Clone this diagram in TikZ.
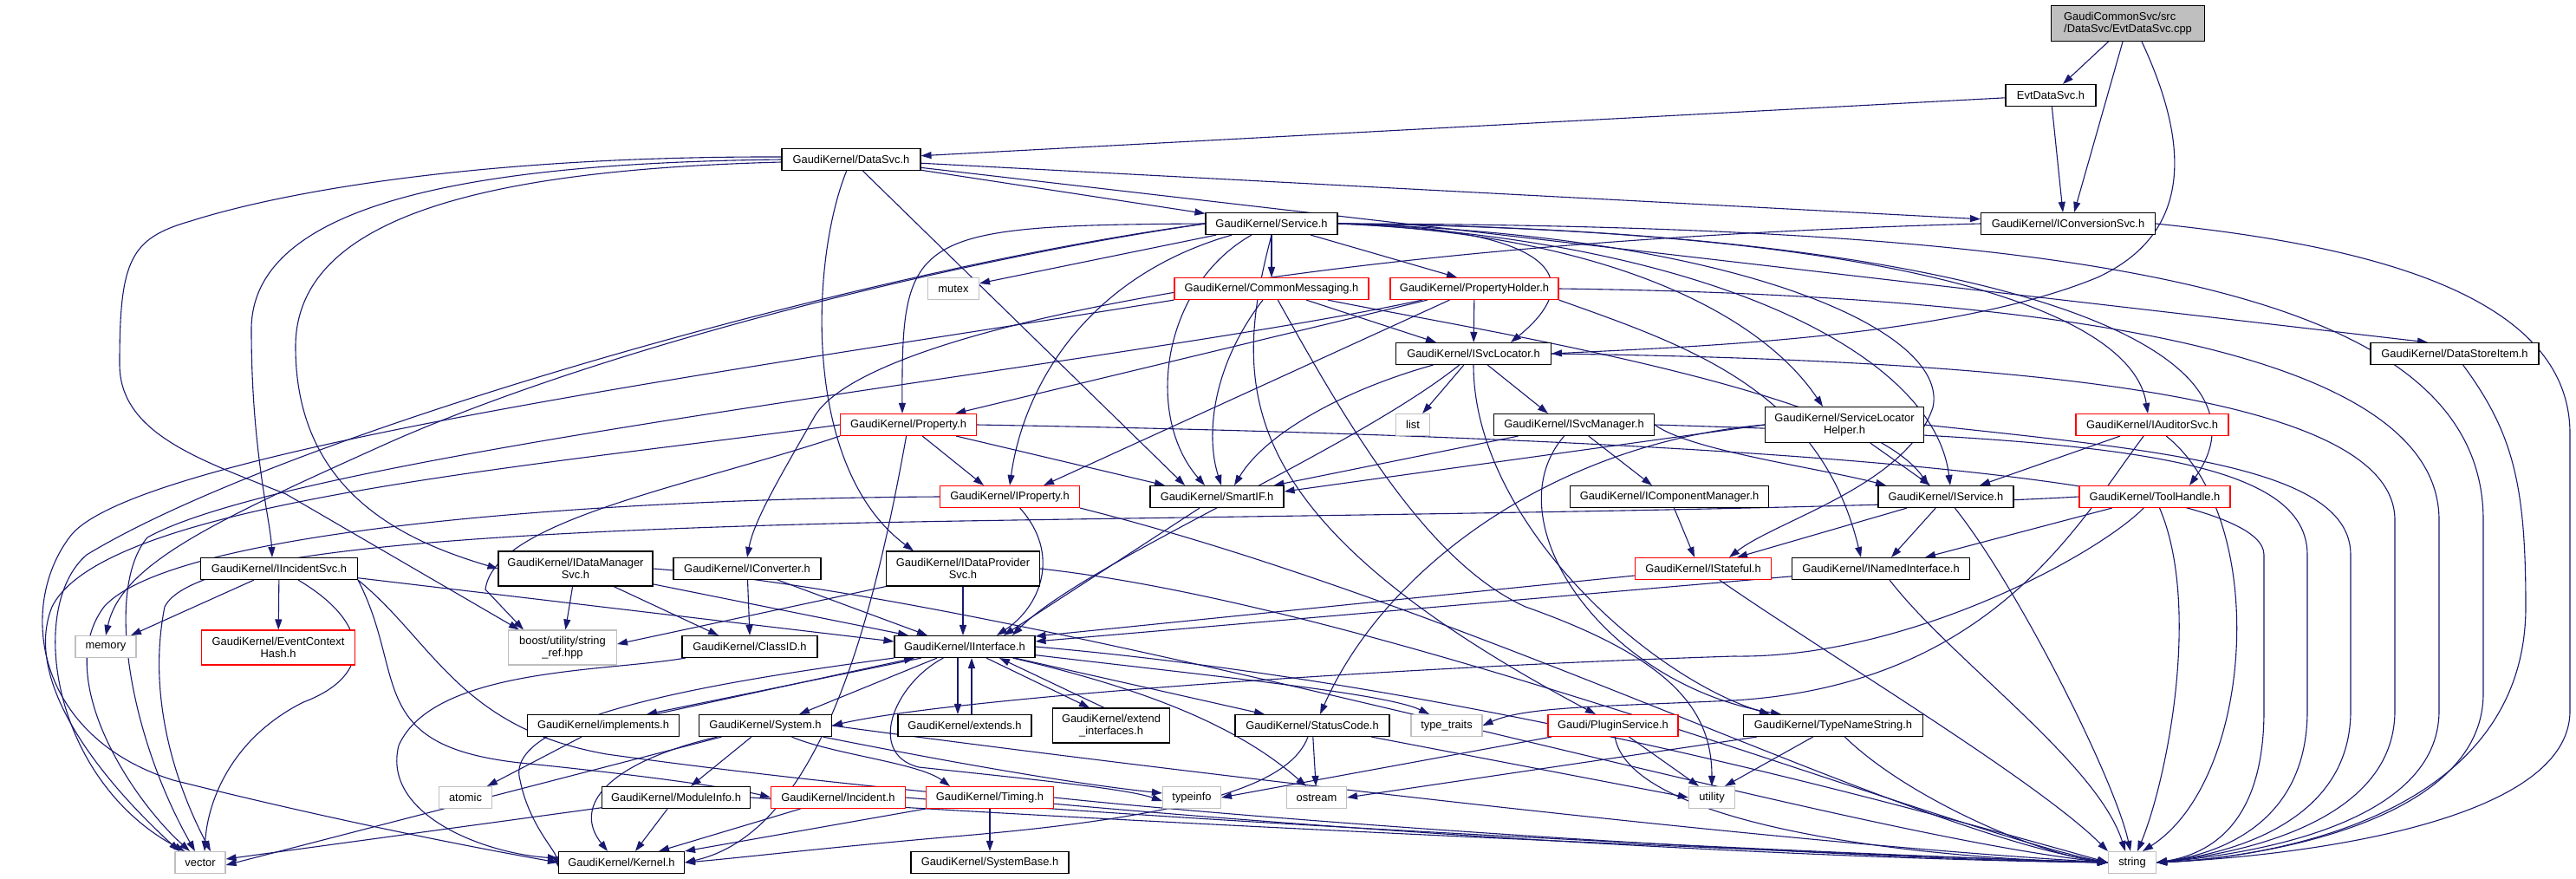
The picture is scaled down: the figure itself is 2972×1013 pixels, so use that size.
\documentclass[tikz,border=0pt]{standalone}
\usepackage{fontspec}
\setmainfont{Liberation Sans}
\usetikzlibrary{arrows.meta}
\definecolor{edgeblue}{HTML}{191970}
\definecolor{nodegrey}{HTML}{BFBFBF}
\pgfdeclarelayer{bg}
\pgfsetlayers{bg,main}
\tikzset{
  nd/.style={draw=black, line width=1.1pt, fill=white, rectangle, inner sep=0pt,
    minimum height=25pt, font=\fontsize{12.9}{14.5}\selectfont, align=center},
  rednd/.style={nd, draw=red},
  greynd/.style={nd, draw=nodegrey},
  e/.style={draw=edgeblue, line width=1.1pt, -{Triangle[length=12pt,width=8pt]}},
}
\begin{document}
\begin{tikzpicture}[x=1pt,y=-1pt]
\useasboundingbox (0,0) rectangle (2972,1013);
% nodes
\node[nd, minimum width=177pt, minimum height=41pt, fill=nodegrey, align=left] (root) at (2455,27) {GaudiCommonSvc/src\\/DataSvc/EvtDataSvc.cpp};
\node[nd, minimum width=104pt] (evt) at (2366,110) {EvtDataSvc.h};
\node[nd, minimum width=201pt] (conv) at (2386,258) {GaudiKernel/IConversionSvc.h};
\node[nd, minimum width=160pt] (datasvc) at (982,184) {GaudiKernel/DataSvc.h};
\node[nd, minimum width=152pt] (service) at (1467,258) {GaudiKernel/Service.h};
\node[greynd, minimum width=59pt] (mutex) at (1100,333) {mutex};
\node[rednd, minimum width=224pt] (commsg) at (1467,333) {GaudiKernel/CommonMessaging.h};
\node[rednd, minimum width=194pt] (propholder) at (1701,333) {GaudiKernel/PropertyHolder.h};
\node[nd, minimum width=179pt] (svcloc) at (1700,408) {GaudiKernel/ISvcLocator.h};
\node[nd, minimum width=194pt] (dsitem) at (2832,408) {GaudiKernel/DataStoreItem.h};
\node[greynd, minimum width=39pt] (list) at (1630,490) {list};
\node[nd, minimum width=185pt] (svcmgr) at (1816,490) {GaudiKernel/ISvcManager.h};
\node[nd, minimum width=183pt, minimum height=41pt] (slh) at (2128,490) {GaudiKernel/ServiceLocator\\Helper.h};
\node[rednd, minimum width=176pt] (audsvc) at (2483,490) {GaudiKernel/IAuditorSvc.h};
\node[rednd, minimum width=157pt] (property) at (1048,490) {GaudiKernel/Property.h};
\node[rednd, minimum width=161pt] (iprop) at (1165,573) {GaudiKernel/IProperty.h};
\node[nd, minimum width=154pt] (smartif) at (1404,573) {GaudiKernel/SmartIF.h};
\node[nd, minimum width=229pt] (compmgr) at (1926,573) {GaudiKernel/IComponentManager.h};
\node[nd, minimum width=156pt] (iservice) at (2245,573) {GaudiKernel/IService.h};
\node[rednd, minimum width=174pt] (toolh) at (2486,573) {GaudiKernel/ToolHandle.h};
\node[nd, minimum width=181pt] (incsvc) at (322,656) {GaudiKernel/IIncidentSvc.h};
\node[nd, minimum width=178pt, minimum height=40pt] (dmsvc) at (664,656) {GaudiKernel/IDataManager\\Svc.h};
\node[nd, minimum width=170pt] (iconv) at (862,656) {GaudiKernel/IConverter.h};
\node[nd, minimum width=177pt, minimum height=40pt] (dpsvc) at (1111,656) {GaudiKernel/IDataProvider\\Svc.h};
\node[rednd, minimum width=157pt] (stateful) at (1965,656) {GaudiKernel/IStateful.h};
\node[nd, minimum width=205pt] (named) at (2170,656) {GaudiKernel/INamedInterface.h};
\node[greynd, minimum width=70pt] (memory) at (122,746) {memory};
\node[rednd, minimum width=177pt, minimum height=40pt] (ech) at (321,747) {GaudiKernel/EventContext\\Hash.h};
\node[greynd, minimum width=125pt, minimum height=40pt] (boost) at (649,747) {boost/utility/string\\\_ref.hpp};
\node[nd, minimum width=156pt] (classid) at (865,746) {GaudiKernel/ClassID.h};
\node[nd, minimum width=162pt] (iinterface) at (1113,746) {GaudiKernel/IInterface.h};
\node[nd, minimum width=175pt] (impl) at (696,837) {GaudiKernel/implements.h};
\node[nd, minimum width=153pt] (system) at (883,837) {GaudiKernel/System.h};
\node[nd, minimum width=154pt] (extends) at (1113,837) {GaudiKernel/extends.h};
\node[nd, minimum width=135pt, minimum height=40pt] (extif) at (1282,837) {GaudiKernel/extend\\\_interfaces.h};
\node[nd, minimum width=178pt] (status) at (1514,837) {GaudiKernel/StatusCode.h};
\node[greynd, minimum width=82pt] (ttraits) at (1669,837) {type\_traits};
\node[rednd, minimum width=150pt] (plugin) at (1861,837) {Gaudi/PluginService.h};
\node[nd, minimum width=207pt] (typename) at (2115,837) {GaudiKernel/TypeNameString.h};
\node[greynd, minimum width=61pt] (atomic) at (537,920) {atomic};
\node[nd, minimum width=171pt] (modinfo) at (780,920) {GaudiKernel/ModuleInfo.h};
\node[rednd, minimum width=155pt] (incident) at (967,920) {GaudiKernel/Incident.h};
\node[rednd, minimum width=147pt] (timing) at (1142,920) {GaudiKernel/Timing.h};
\node[greynd, minimum width=67pt] (typeinfo) at (1375,920) {typeinfo};
\node[greynd, minimum width=69pt] (ostream) at (1519,920) {ostream};
\node[greynd, minimum width=53pt] (utility) at (1975,920) {utility};
\node[greynd, minimum width=58pt] (vector) at (231,995) {vector};
\node[nd, minimum width=145pt] (kernel) at (717,995) {GaudiKernel/Kernel.h};
\node[nd, minimum width=182pt] (sysbase) at (1142,995) {GaudiKernel/SystemBase.h};
\node[greynd, minimum width=55pt] (string) at (2460,995) {string};
\begin{pgfonlayer}{bg}
\fill[white] (0,0) rectangle (2972,1013);
% root
\draw[e] (root) -- (evt);
\draw[e] (root) -- ([xshift=7pt]conv.north);
\draw[e] ([xshift=16pt]root.south) .. controls (2528,170) and (2528,270) .. (2420,320) .. controls (2250,390) and (1950,400) .. (svcloc.east);
% evt
\draw[e] (evt) -- (datasvc);
\draw[e] (evt) -- ([xshift=-6pt]conv.north);
% datasvc
\draw[e] (datasvc) -- (service);
\draw[e] (datasvc) -- (conv);
\draw[e] (datasvc) -- ([xshift=-31pt]dsitem.north);
\draw[e] (datasvc) -- ([xshift=-37pt]smartif.north);
\draw[e] (datasvc.west) .. controls (560,188) and (290,230) .. (290,380) .. controls (290,520) and (312,600) .. ([xshift=-8pt]incsvc.north);
\draw[e] ([yshift=-3pt]datasvc.west) .. controls (560,196) and (341,250) .. (341,400) .. controls (341,570) and (470,625) .. (dmsvc.west);
\draw[e] ([yshift=3pt]datasvc.west) .. controls (560,180) and (330,220) .. (220,255) .. controls (150,275) and (138,300) .. (138,420) .. controls (138,500) and (230,530) .. (330,570) -- ([xshift=-50pt]boost.north);
\draw[e] (datasvc) .. controls (935,300) and (925,540) .. ([xshift=-57pt]dpsvc.north);
% conv
\draw[e] (conv.west) .. controls (1500,280) and (1000,380) .. (940,480) .. controls (900,550) and (870,600) .. (iconv.north);
\draw[e] (conv.east) .. controls (2700,280) and (2965,330) .. (2965,500) -- (2965,820) .. controls (2965,960) and (2600,990) .. (string.east);
% dsitem
\draw[e] (dsitem) .. controls (2900,500) and (2914,560) .. (2914,700) .. controls (2914,950) and (2600,990) .. (string.east);
% service
\draw[e] (service) -- (mutex);
\draw[e] (service) -- (commsg);
\draw[e] (service) -- ([xshift=-20pt]propholder.north);
\draw[e] (service.east) .. controls (1790,262) and (1835,320) .. ([xshift=43pt]svcloc.north);
\draw[e] (service.west) .. controls (1050,260) and (1040,270) .. ([xshift=-7pt]property.north);
\draw[e] (service) .. controls (1250,320) and (1180,450) .. (iprop.north);
\draw[e] (service) .. controls (1340,330) and (1320,480) .. ([xshift=-14pt]smartif.north);
\draw[e] (service.east) .. controls (1950,275) and (2230,400) .. ([xshift=5pt]iservice.north);
\draw[e] (service.east) .. controls (2000,270) and (2250,380) .. (2230,470) .. controls (2200,560) and (2050,600) .. ([xshift=30pt]stateful.north);
\draw[e] (service.east) .. controls (1850,270) and (2030,360) .. ([xshift=-25pt]slh.north);
\draw[e] (service.east) .. controls (2200,265) and (2460,360) .. ([xshift=-5pt]audsvc.north);
\draw[e] (service.east) .. controls (2300,265) and (2640,400) .. ([xshift=40pt]toolh.north);
\draw[e] (service.south) .. controls (1420,450) and (1420,600) .. ([xshift=-20pt]plugin.north);
\draw[e] (service.west) .. controls (1100,300) and (700,400) .. (450,510) .. controls (250,600) and (140,650) .. (memory.north);
\draw[e] (service.west) .. controls (1000,310) and (330,500) .. (100,640) .. controls (30,700) and (60,900) .. ([xshift=-18pt]vector.north);
\draw[e] (service.east) .. controls (2400,260) and (2865,330) .. (2865,600) -- (2865,800) .. controls (2865,950) and (2600,990) .. (string.east);
% commsg
\draw[e] (commsg) -- ([xshift=-43pt]svcloc.north);
\draw[e] (commsg) .. controls (1400,420) and (1390,500) .. ([xshift=5pt]smartif.north);
\draw[e] (commsg) .. controls (1700,380) and (2150,450) .. ([xshift=-20pt]iservice.north);
\draw[e] (commsg) .. controls (1560,500) and (1650,650) .. (1760,700) .. controls (1930,760) and (1975,820) .. (utility.north);
\draw[e] (commsg.south west) .. controls (900,420) and (150,520) .. (80,620) .. controls (20,700) and (40,850) .. (200,900) .. controls (400,950) and (560,980) .. (kernel.west);
% propholder
\draw[e] (propholder) -- (svcloc);
\draw[e] (propholder) -- (property);
\draw[e] (propholder) -- ([xshift=39pt]iprop.north);
\draw[e] (propholder.south east) .. controls (1950,400) and (2100,450) .. ([xshift=-23pt]named.north);
\draw[e] (propholder) .. controls (1300,420) and (350,520) .. (170,620) .. controls (120,680) and (150,850) .. ([xshift=-6pt]vector.north);
\draw[e] (propholder.east) .. controls (2350,340) and (2814,400) .. (2814,600) -- (2814,820) .. controls (2814,950) and (2600,985) .. (string.east);
% svcloc
\draw[e] (svcloc) -- (list);
\draw[e] (svcloc) -- ([xshift=-30pt]svcmgr.north);
\draw[e] (svcloc) .. controls (1550,450) and (1460,500) .. ([xshift=20pt]smartif.north);
\draw[e] (svcloc) .. controls (1560,520) and (1250,650) .. ([xshift=55pt]iinterface.north);
\draw[e] (svcloc) .. controls (1700,600) and (1900,780) .. ([xshift=-73pt]typename.north);
\draw[e] (svcloc.east) .. controls (2300,415) and (2763,450) .. (2763,600) -- (2763,820) .. controls (2763,950) and (2580,985) .. (string.east);
% svcmgr
\draw[e] (svcmgr) -- ([xshift=-12pt]smartif.north east);
\draw[e] (svcmgr) -- ([xshift=-20pt]compmgr.north);
\draw[e] (svcmgr.east) .. controls (1950,520) and (2100,540) .. ([xshift=-69pt]iservice.north);
\draw[e] (svcmgr) .. controls (1720,600) and (1850,790) .. ([xshift=-60pt]typename.north);
\draw[e] (svcmgr.east) .. controls (2400,505) and (2662,520) .. (2662,640) -- (2662,820) .. controls (2662,950) and (2560,985) .. (string.east);
% slh
\draw[e] (slh) -- ([xshift=-18pt]iservice.north);
\draw[e] (slh.west) -- ([yshift=6pt]smartif.east);
\draw[e] (slh.west) .. controls (1800,510) and (1600,650) .. ([xshift=9pt]status.north);
\draw[e] (slh.east) .. controls (2500,520) and (2712,540) .. (2712,640) -- (2712,820) .. controls (2712,950) and (2570,985) .. (string.east);
% audsvc
\draw[e] (audsvc) -- ([xshift=39pt]iservice.north);
\draw[e] (audsvc) .. controls (2620,600) and (2600,900) .. ([xshift=12pt]string.north);
\draw[e] (audsvc) .. controls (2400,600) and (2300,790) .. (2000,808) .. controls (1850,815) and (1760,815) .. (ttraits.east);
% property
\draw[e] (property) -- ([xshift=-30pt]iprop.north);
\draw[e] (property) -- ([xshift=-60pt]smartif.north);
\draw[e] (property.east) .. controls (1700,500) and (2612,530) .. (2612,640) -- (2612,820) .. controls (2612,950) and (2550,985) .. (string.east);
\draw[e] (property) .. controls (1010,700) and (950,960) .. (kernel.east);
\draw[e] (property.west) .. controls (600,540) and (120,580) .. (60,700) .. controls (20,800) and (150,930) .. ([xshift=-24pt]vector.north);
\draw[e] (property.south west) .. controls (800,560) and (570,600) .. (560,680) -- ([xshift=-45pt]boost.north);
% iprop
\draw[e] (iprop) .. controls (1225,640) and (1200,700) .. ([xshift=37pt]iinterface.north);
\draw[e] (iprop.south east) .. controls (1700,700) and (2200,960) .. (string.west);
\draw[e] (iprop.west) .. controls (700,575) and (200,610) .. (120,700) .. controls (60,780) and (150,920) .. ([xshift=-12pt]vector.north);
% incsvc
\draw[e] (incsvc) -- (memory);
\draw[e] (incsvc) -- (ech);
\draw[e] (incsvc) .. controls (430,720) and (430,780) .. (350,810) .. controls (270,850) and (240,920) .. ([xshift=5pt]vector.north);
\draw[e] (incsvc) -- ([yshift=6pt]iinterface.west);
\draw[e] (incsvc.south east) .. controls (470,780) and (420,860) .. (600,880) .. controls (750,895) and (850,910) .. (incident.west);
\draw[e] (incsvc.south east) .. controls (500,740) and (530,840) .. (700,870) .. controls (1200,940) and (2000,990) .. (string.west);
% dmsvc
\draw[e] (dmsvc) -- (boost);
\draw[e] (dmsvc) -- ([xshift=-36pt]classid.north);
\draw[e] (dmsvc) -- ([xshift=-65pt]iinterface.north);
\draw[e] (dmsvc.east) .. controls (1200,690) and (2100,960) .. (string.west);
% iconv
\draw[e] (iconv) -- (classid.north);
\draw[e] (iconv) -- ([xshift=-43pt]iinterface.north);
% dpsvc
\draw[e] (dpsvc) -- ([xshift=-2pt]iinterface.north);
\draw[e] (dpsvc.south west) -- ([yshift=4pt]boost.east);
\draw[e] (dpsvc.east) .. controls (1600,700) and (2250,960) .. (string.west);
% smartif
\draw[e] (smartif) -- ([xshift=45pt]iinterface.north);
% stateful, named, compmgr
\draw[e] (stateful) -- ([yshift=12pt]iinterface.east);
\draw[e] (named) -- ([yshift=6pt]iinterface.east);
\draw[e] (stateful) .. controls (2100,750) and (2350,900) .. (string.north west);
\draw[e] (named) .. controls (2250,760) and (2420,880) .. ([xshift=-8pt]string.north);
\draw[e] (compmgr) -- ([xshift=-10pt]stateful.north);
% iservice
\draw[e] (iservice) -- ([xshift=39pt]stateful.north);
\draw[e] (iservice) -- ([xshift=12pt]named.north);
\draw[e] (iservice) .. controls (2330,680) and (2440,900) .. ([xshift=-2pt]string.north);
% toolh
\draw[e] (toolh) -- ([xshift=51pt]named.north);
\draw[e] (toolh) .. controls (2540,700) and (2500,900) .. ([xshift=6pt]string.north);
\draw[e] (toolh.west) .. controls (2100,590) and (1400,595) .. (1000,603) .. controls (500,615) and (220,640) .. (190,700) .. controls (170,800) and (200,900) .. ([xshift=12pt]vector.north);
\draw[e] (toolh) .. controls (2420,640) and (2200,760) .. (2000,757) .. controls (1600,770) and (1100,805) .. (system.east);
% iinterface
\draw[e] ([xshift=-8pt]iinterface.south) -- ([xshift=-8pt]extends.north);
\draw[e] ([xshift=8pt]extends.north) -- ([xshift=8pt]iinterface.south);
\draw[e] ([xshift=25pt]iinterface.south) -- ([xshift=-25pt]extif.north);
\draw[e] ([xshift=-8pt]extif.north) -- ([xshift=40pt]iinterface.south);
\draw[e] ([xshift=-50pt]iinterface.south) -- ([xshift=50pt]impl.north);
\draw[e] ([xshift=60pt]impl.north) -- ([xshift=-58pt]iinterface.south);
\draw[e] (iinterface) -- ([xshift=39pt]system.north);
\draw[e] (iinterface) -- ([xshift=-55pt]status.north);
\draw[e] (iinterface) .. controls (1400,780) and (1600,800) .. ([xshift=-20pt]ttraits.north);
\draw[e] (iinterface) .. controls (1030,790) and (1000,870) .. (1060,885) .. controls (1200,900) and (1300,910) .. ([yshift=-4pt]typeinfo.west);
\draw[e] (iinterface) .. controls (1300,790) and (1420,830) .. ([xshift=-12pt]ostream.north);
\draw[e] (iinterface.east) .. controls (1700,790) and (2200,930) .. (string.west);
\draw[e] (iinterface.south west) .. controls (800,790) and (580,830) .. (600,900) .. controls (610,950) and (640,980) .. ([yshift=-5pt]kernel.west);
% implements
\draw[e] (impl) -- (atomic);
% system
\draw[e] (system) -- ([xshift=17pt]modinfo.north);
\draw[e] (system) .. controls (700,880) and (660,930) .. ([xshift=-16pt]kernel.north);
\draw[e] (system) -- ([yshift=-3pt]vector.east);
\draw[e] (system) .. controls (960,870) and (1060,880) .. ([xshift=-46pt]timing.north);
\draw[e] (system) .. controls (1000,860) and (1200,900) .. ([yshift=5pt]typeinfo.west);
\draw[e] (system.east) .. controls (1200,870) and (2000,970) .. (string.west);
% modinfo
\draw[e] (modinfo) -- ([xshift=16pt]kernel.north);
\draw[e] (modinfo) -- (vector);
\draw[e] (modinfo.east) .. controls (1300,950) and (2100,985) .. (string.west);
% incident
\draw[e] (incident) -- ([xshift=-30pt]kernel.north east);
\draw[e] (incident.east) .. controls (1400,950) and (2100,985) .. (string.west);
% timing
\draw[e] (timing) -- (kernel.north east);
\draw[e] (timing) -- (sysbase);
\draw[e] (timing.east) .. controls (1500,950) and (2100,990) .. (string.west);
% status
\draw[e] (status) .. controls (1490,900) and (1400,940) .. (1100,965) .. controls (950,978) and (850,990) .. (kernel.east);
\draw[e] (status) -- (ostream);
\draw[e] (status) -- (utility.west);
% plugin
\draw[e] (plugin) -- (typeinfo.east);
\draw[e] (plugin) -- ([xshift=-15pt]utility.north);
\draw[e] (plugin) .. controls (1880,950) and (2200,990) .. (string.west);
% typename
\draw[e] (typename) -- ([xshift=15pt]utility.north);
\draw[e] (typename) -- (ostream.east);
\draw[e] (typename) .. controls (2200,920) and (2350,985) .. (string.west);
% classid
\draw[e] (classid) .. controls (700,775) and (500,770) .. (460,860) .. controls (440,940) and (560,985) .. ([yshift=5pt]kernel.west);
\end{pgfonlayer}
\end{tikzpicture}
\end{document}
